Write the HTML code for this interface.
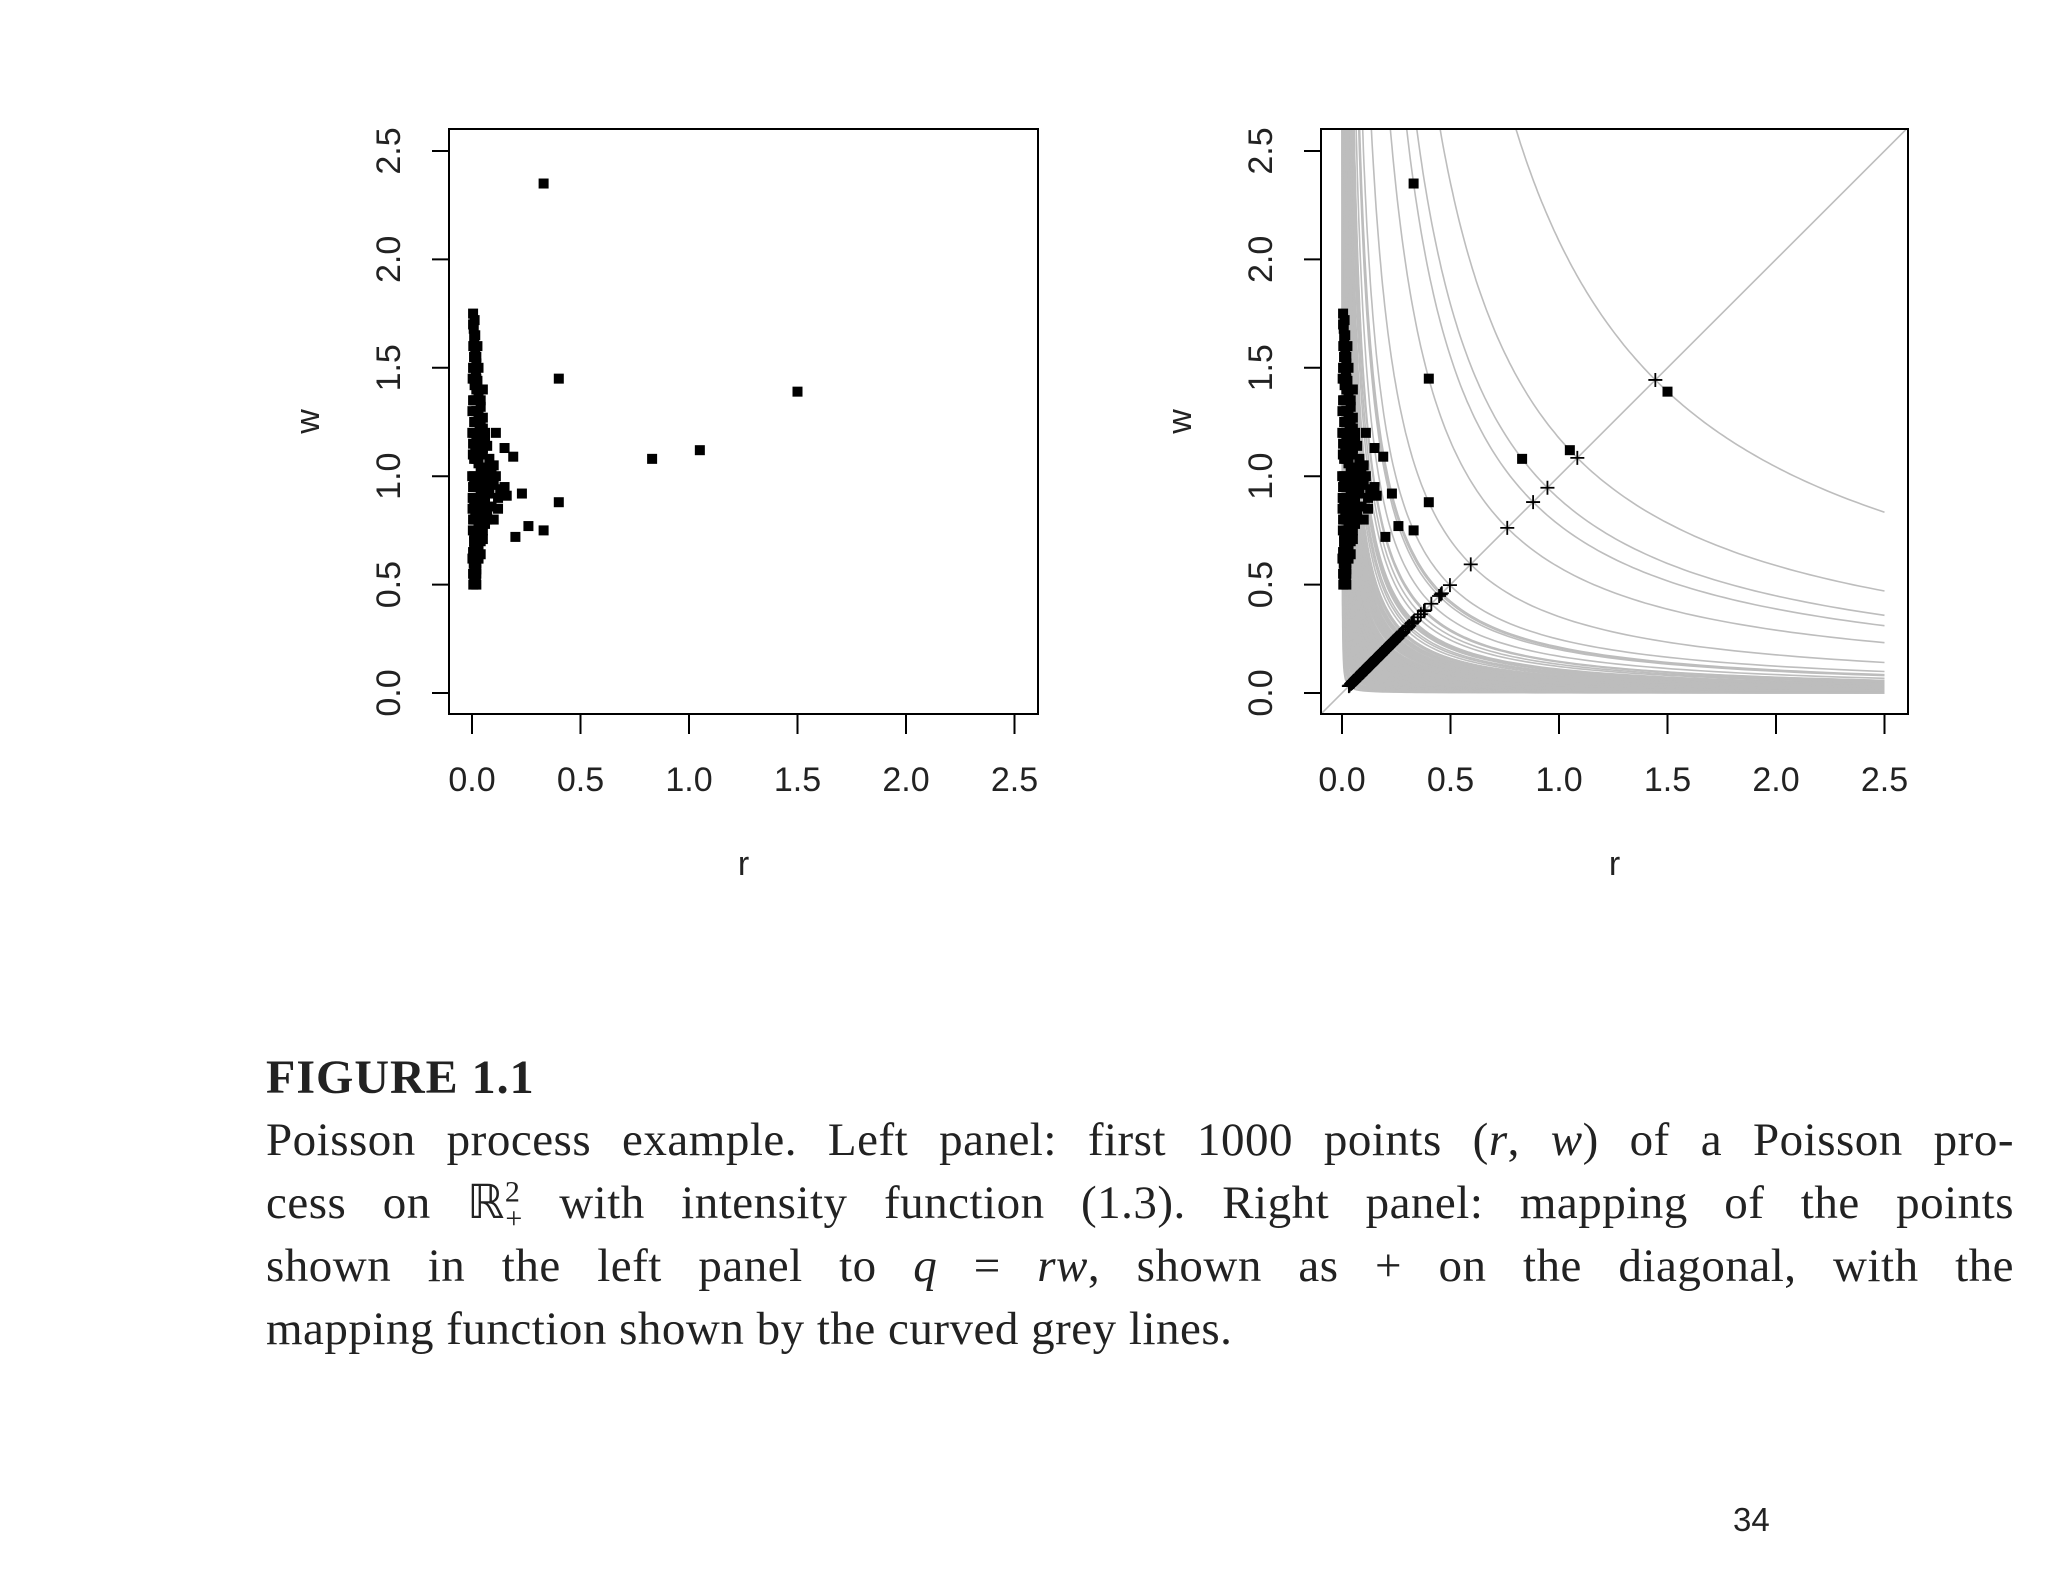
<!DOCTYPE html>
<html><head><meta charset="utf-8">
<style>
html,body{margin:0;padding:0;background:#fff;}
body{width:2048px;height:1582px;position:relative;overflow:hidden;}
svg{position:absolute;left:0;top:0;}
.cap{position:absolute;left:266px;width:1748px;font-family:"Liberation Serif",serif;font-size:47px;color:#222;line-height:63px;letter-spacing:0.5px;}
.ln{text-align:justify;text-align-last:justify;white-space:nowrap;height:63px;}
.ln.last{text-align-last:left;}
</style></head>
<body>
<svg id="chart" width="2048" height="1582"></svg>
<div class="cap" style="top:1046px;">
  <div style="font-weight:bold;font-size:48px;height:63px;letter-spacing:1px;">FIGURE 1.1</div>
  <div class="ln">Poisson process example. Left panel: first 1000 points (<i>r</i>, <i>w</i>) of a Poisson pro-</div>
  <div class="ln">cess on ℝ<sup style="font-size:30px;line-height:0">2</sup><sub style="font-size:30px;line-height:0;margin-left:-15px">+</sub> with intensity function (1.3). Right panel: mapping of the points</div>
  <div class="ln">shown in the left panel to <i>q</i> = <i>rw</i>, shown as + on the diagonal, with the</div>
  <div class="ln last">mapping function shown by the curved grey lines.</div>
</div>
<div style="position:absolute;left:1733px;top:1501px;font-family:'Liberation Sans',sans-serif;font-size:33px;color:#222;">34</div>
<script>
const xTicks=[0,0.5,1.0,1.5,2.0,2.5];
const yTicks=[0,0.5,1.0,1.5,2.0,2.5];
const tickLabels=["0.0","0.5","1.0","1.5","2.0","2.5"];
const outlierR=[0.33,0.40,1.50,0.83,1.05,0.40,0.33,0.26,0.20,0.23,0.15,0.16,0.19,0.15,0.11,0.12,0.10,0.05];
const outlierW=[2.35,1.45,1.39,1.08,1.12,0.88,0.75,0.77,0.72,0.92,0.95,0.91,1.09,1.13,1.20,0.85,0.80,1.40];
const clusterR=[0.005,0.012,0.008,0.01,0.006,0.015,0.01,0.02,0.008,0.018,0.025,0.012,0.03,0.015,0.04,0.02,0.05,0.01,0.035,0.06,0.02,0.045,0.07,0.015,0.05,0.08,0.03,0.06,0.09,0.01,0.04,0.07,0.1,0.02,0.05,0.08,0.12,0.03,0.06,0.09,0.015,0.05,0.07,0.03,0.045,0.02,0.035,0.01,0.025,0.015,0.03,0.008,0.02,0.012,0.018,0.006,0.004,0.003,0.002,0.004,0.003,0.002,0.0015,0.001,0.0025,0.11,0.13,0.1,0.04,0.03,0.02,0.025,
0.01,0.02,0.03,0.01,0.02,0.03,0.04,0.01,0.02,0.03,0.04,0.05,0.01,0.02,0.03,0.04,0.05,0.06,0.01,0.02,0.03,0.04,0.05,0.06,0.07,0.01,0.02,0.03,0.04,0.05,0.06,0.07,0.08,0.01,0.02,0.03,0.04,0.05,0.06,0.07,0.01,0.02,0.03,0.04,0.05,0.06,0.01,0.02,0.03,0.04,0.05,0.01,0.02,0.03,0.04,0.01,0.02,0.03,0.01,0.02,0.01,0.02,0.01,0.015,0.005,0.005,0.005,0.005,0.005,0.005,0.005,0.005];
const clusterW=[1.75,1.72,1.68,1.64,1.6,1.58,1.55,1.52,1.5,1.47,1.44,1.42,1.38,1.35,1.32,1.3,1.27,1.25,1.23,1.2,1.18,1.16,1.14,1.12,1.1,1.08,1.06,1.04,1.02,1.0,0.99,0.97,0.96,0.95,0.93,0.92,0.9,0.89,0.87,0.86,0.84,0.82,0.8,0.78,0.76,0.74,0.72,0.7,0.68,0.65,0.62,0.6,0.57,0.54,0.51,0.5,1.1,0.9,1.3,0.75,1.45,0.62,1.2,1.0,0.85,1.0,0.94,1.05,1.12,1.25,1.4,1.6,
1.55,1.55,1.5,1.45,1.45,1.4,1.35,1.35,1.3,1.28,1.25,1.22,1.2,1.2,1.17,1.15,1.13,1.18,1.08,1.08,1.06,1.04,1.02,1.0,1.0,0.98,0.96,0.97,0.94,0.95,0.91,0.93,0.96,0.88,0.88,0.9,0.85,0.87,0.84,0.83,0.8,0.8,0.77,0.82,0.75,0.78,0.73,0.72,0.74,0.7,0.71,0.66,0.66,0.68,0.64,0.6,0.6,0.62,0.56,0.55,0.52,0.5,0.7,1.65,1.7,1.5,1.35,1.15,0.95,0.8,0.65,0.55];

const R=clusterR.concat(outlierR), W=clusterW.concat(outlierW);
const NS="http://www.w3.org/2000/svg";
const svg=document.getElementById('chart');
function mk(tag,attrs,parent){const e=document.createElementNS(NS,tag);for(const k in attrs)e.setAttribute(k,attrs[k]);(parent||svg).appendChild(e);return e;}
const Y0=693,YS=216.8,BT=129,BB=714;
function panel(x0,left,right,withMap,prefix){
  const sx=v=>x0+v*217, sy=v=>Y0-v*YS;
  const g=mk('g',{});
  
  
  const cid=prefix+'clip';
  const defs=mk('defs',{},g);
  const cp=mk('clipPath',{id:cid},defs);
  mk('rect',{x:left,y:BT,width:right-left,height:BB-BT},cp);
  const plot=mk('g',{'clip-path':'url(#'+cid+')'},g);
  if(withMap){
    for(let i=0;i<R.length;i++){
      const c=R[i]*W[i];
      let pts=[];
      const r0=c/2.8, r1=2.5;
      for(let k=0;k<=120;k++){
        const r=r0*Math.pow(r1/r0,k/120);
        pts.push(sx(r).toFixed(1)+','+sy(c/r).toFixed(1));
      }
      const pl=mk('polyline',{points:pts.join(' '),fill:'none',stroke:'#bdbdbd','stroke-width':1.6},plot);
      
      
    }
    const d=mk('line',{x1:sx(-0.2),y1:sy(-0.2),x2:sx(2.7),y2:sy(2.7),stroke:'#bdbdbd','stroke-width':1.6},plot);
    
    
  }
  for(let i=0;i<R.length;i++){
    const s=mk('rect',{x:sx(R[i])-5,y:sy(W[i])-5,width:10,height:10,fill:'#000'},plot);
    
    
  }
  if(withMap){
    for(let i=0;i<R.length;i++){
      const q=Math.sqrt(R[i]*W[i]);
      const p=mk('path',{d:`M${sx(q)-7},${sy(q)}h14M${sx(q)},${sy(q)-7}v14`,stroke:'#000','stroke-width':1.8},plot);
      
      
    }
  }
  const b=mk('rect',{x:left,y:BT,width:right-left,height:BB-BT,fill:'none',stroke:'#000','stroke-width':2},g);
  
  
  xTicks.forEach((t,i)=>{
    mk('line',{x1:sx(t),x2:sx(t),y1:BB,y2:BB+20,stroke:'#000','stroke-width':2},g);
    const tx=mk('text',{x:sx(t),y:791,'text-anchor':'middle','font-family':'Liberation Sans, sans-serif','font-size':34,fill:'#222'},g);
    tx.textContent=tickLabels[i];
    
    
  });
  yTicks.forEach((t,i)=>{
    mk('line',{x1:left,x2:left-17,y1:sy(t),y2:sy(t),stroke:'#000','stroke-width':2},g);
    const tx=mk('text',{x:0,y:0,'text-anchor':'middle','font-family':'Liberation Sans, sans-serif','font-size':34,fill:'#222',transform:`translate(${left-49},${sy(t)}) rotate(-90)`},g);
    tx.textContent=tickLabels[i];
    
    
  });
  const xl=mk('text',{x:(left+right)/2,y:875,'text-anchor':'middle','font-family':'Liberation Sans, sans-serif','font-size':34,fill:'#222'},g);
  xl.textContent='r';
  
  
  const yl=mk('text',{x:0,y:0,'text-anchor':'middle','font-family':'Liberation Sans, sans-serif','font-size':34,fill:'#222',transform:`translate(${left-130},${(BT+BB)/2}) rotate(-90)`},g);
  yl.textContent='w';
  
  
}
panel(472,449,1038,false,'left');
panel(1342,1321,1908,true,'right');
</script>
</body></html>
